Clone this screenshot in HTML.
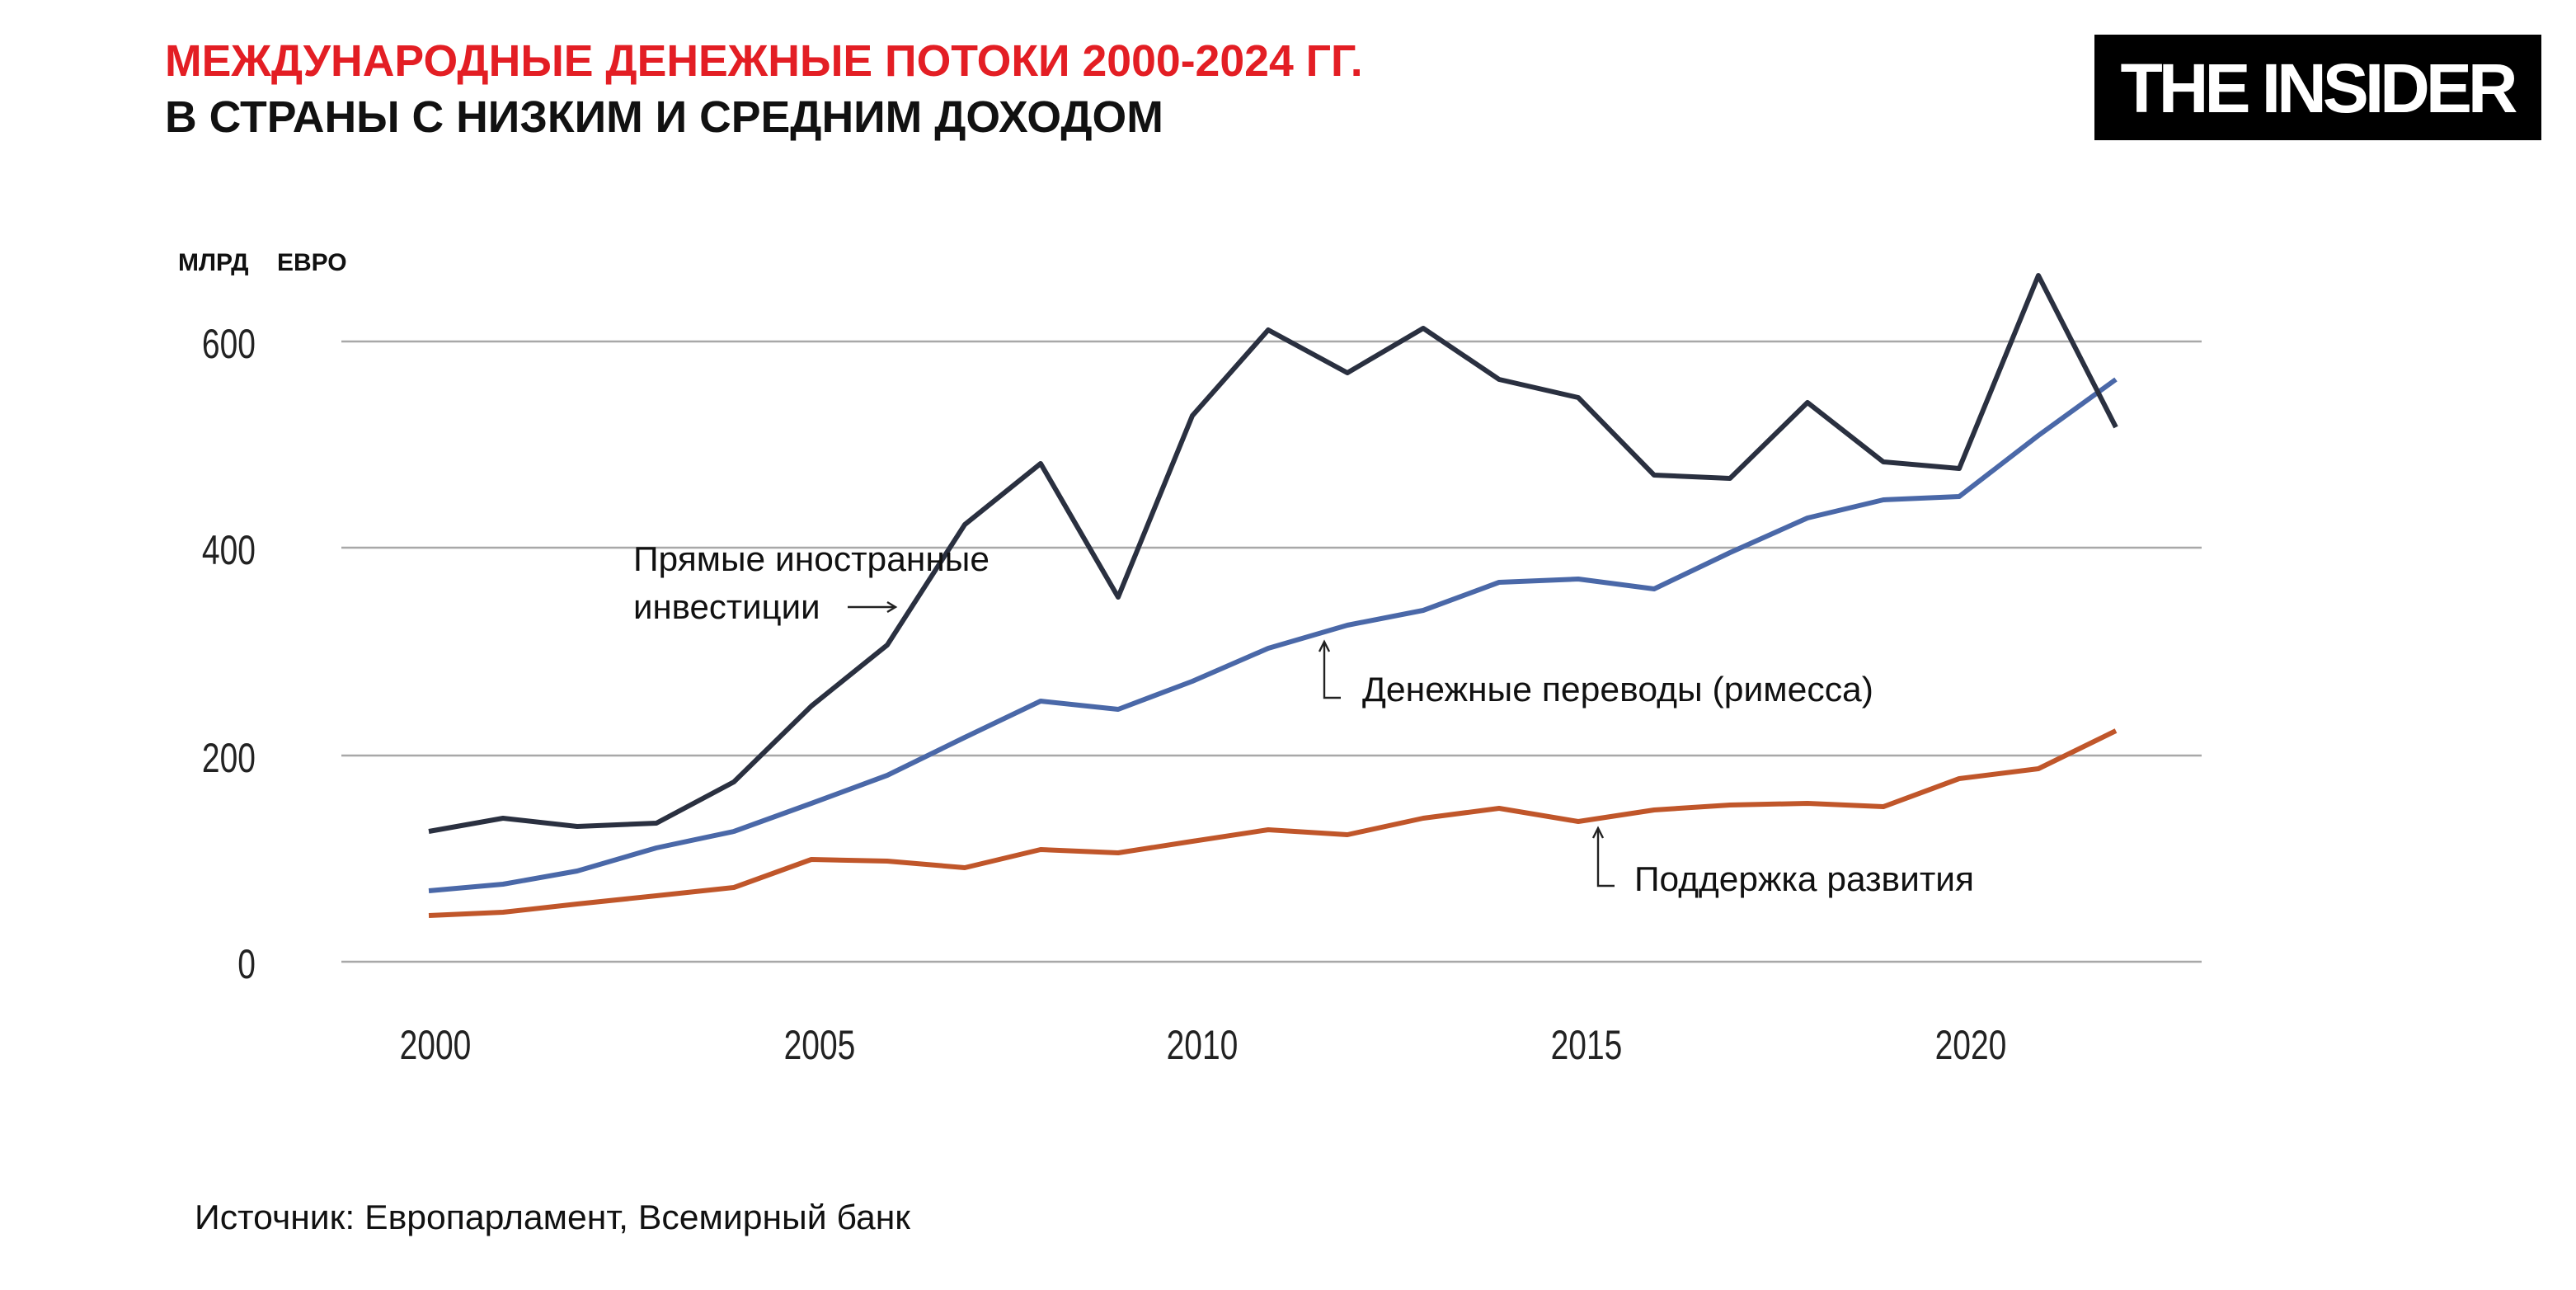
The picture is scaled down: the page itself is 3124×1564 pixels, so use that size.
<!DOCTYPE html>
<html><head><meta charset="utf-8"><style>
html,body{margin:0;padding:0;background:#fff;}
svg{display:block}
</style></head><body>
<svg width="3124" height="1564" viewBox="0 0 1562 782" xmlns="http://www.w3.org/2000/svg">
<rect width="1562" height="782" fill="#fff"/>
<g font-family="Liberation Sans, DejaVu Sans, sans-serif" font-weight="bold">
<text x="100" y="46" font-size="26.8" fill="#e31e24">МЕЖДУНАРОДНЫЕ ДЕНЕЖНЫЕ ПОТОКИ 2000-2024 ГГ.</text>
<text x="100" y="80" font-size="26.8" fill="#111">В СТРАНЫ С НИЗКИМ И СРЕДНИМ ДОХОДОМ</text>
<text x="108" y="164" font-size="15" fill="#111">МЛРД</text>
<text x="168" y="164" font-size="15" fill="#111">ЕВРО</text>
</g>
<rect x="1270" y="21" width="271" height="64" fill="#000"/>
<text x="1405" y="68" text-anchor="middle" font-family="Liberation Sans, sans-serif" font-weight="bold" font-size="42" fill="#fff" letter-spacing="-2.5">THE INSIDER</text>
<g stroke="#a8a8a8" stroke-width="1.2">
<line x1="207" y1="207" x2="1335" y2="207"/>
<line x1="207" y1="332" x2="1335" y2="332"/>
<line x1="207" y1="458" x2="1335" y2="458"/>
<line x1="207" y1="583" x2="1335" y2="583"/>
</g>
<g font-family="Liberation Sans, sans-serif" font-size="25" fill="#222" text-anchor="end">
<text x="155" y="217" transform="translate(155 0) scale(0.78 1) translate(-155 0)">600</text>
<text x="155" y="342" transform="translate(155 0) scale(0.78 1) translate(-155 0)">400</text>
<text x="155" y="468" transform="translate(155 0) scale(0.78 1) translate(-155 0)">200</text>
<text x="155" y="593" transform="translate(155 0) scale(0.78 1) translate(-155 0)">0</text>
</g>
<g font-family="Liberation Sans, sans-serif" font-size="25" fill="#222" text-anchor="middle">
<text x="264" y="642" transform="translate(264 0) scale(0.78 1) translate(-264 0)">2000</text>
<text x="497" y="642" transform="translate(497 0) scale(0.78 1) translate(-497 0)">2005</text>
<text x="729" y="642" transform="translate(729 0) scale(0.78 1) translate(-729 0)">2010</text>
<text x="962" y="642" transform="translate(962 0) scale(0.78 1) translate(-962 0)">2015</text>
<text x="1195" y="642" transform="translate(1195 0) scale(0.78 1) translate(-1195 0)">2020</text>
</g>
<g fill="none" stroke-width="3" stroke-linejoin="round">
<polyline stroke="#c0562a" points="260,555 305,553 350,548 398,543 445,538 492,521 538,522 585,526 631,515 678,517 723,510 769,503 817,506 863,496 909,490 957,498 1003,491 1049,488 1096,487 1142,489 1188,472 1236,466 1283,443"/>
<polyline stroke="#4a68a8" points="260,540 305,536 350,528 398,514 445,504 492,487 538,470 585,447 631,425 678,430 723,413 769,393 817,379 863,370 909,353 957,351 1003,357 1049,335 1096,314 1142,303 1188,301 1236,264 1283,230"/>
<polyline stroke="#2a3040" points="260,504 305,496 350,501 398,499 445,474 492,428 538,391 585,318 631,281 678,362 723,252 769,200 817,226 863,199 909,230 957,241 1003,288 1049,290 1096,244 1142,280 1188,284 1236,167 1283,259"/>
</g>
<g font-family="Liberation Sans, DejaVu Sans, sans-serif" font-size="21" fill="#111">
<text x="384" y="346" textLength="216" lengthAdjust="spacingAndGlyphs">Прямые иностранные</text>
<text x="384" y="375">инвестиции</text>
<text x="826" y="425" textLength="310" lengthAdjust="spacingAndGlyphs">Денежные переводы (римесса)</text>
<text x="991" y="540" textLength="206" lengthAdjust="spacingAndGlyphs">Поддержка развития</text>
<text x="118" y="745" textLength="434" lengthAdjust="spacingAndGlyphs">Источник: Европарламент, Всемирный банк</text>
</g>
<g stroke="#222" stroke-width="1.2" fill="none">
<line x1="514" y1="368" x2="543" y2="368"/><polyline points="538,365 543,368 538,371"/>
<polyline points="803,390 803,423 813,423"/><polyline points="800,395 803,389 806,395"/>
<polyline points="969,503 969,537 979,537"/><polyline points="966,508 969,502 972,508"/>
</g>
</svg>
</body></html>
